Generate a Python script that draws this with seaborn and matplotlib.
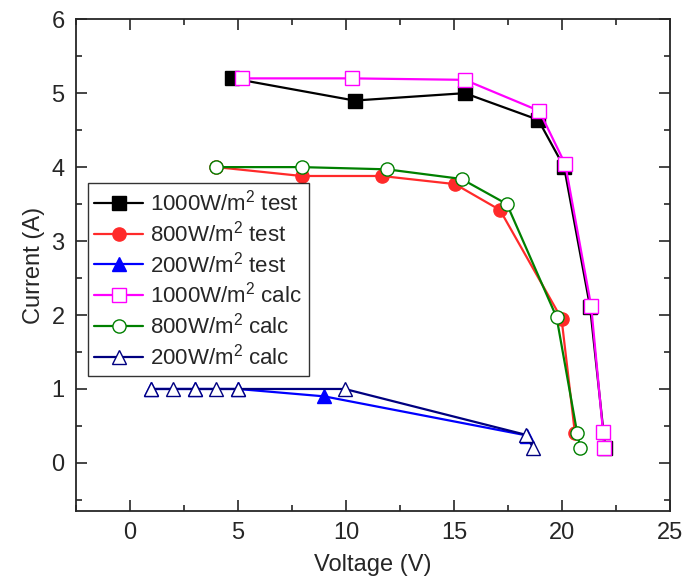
import numpy as np
import pandas as pd
import matplotlib
matplotlib.use('Agg')
import matplotlib.pyplot as plt
import seaborn as sns
from matplotlib.ticker import MultipleLocator

# Dados
v_1000_test = [4.75, 10.4, 15.5, 18.9, 20.1, 21.3, 22.0]
i_1000_test = [5.2, 4.9, 5.0, 4.64, 4.0, 2.11, 0.2]
v_800_test = [4.0, 7.95, 11.65, 15.05, 17.13, 19.98, 20.6]
i_800_test = [4.0, 3.88, 3.88, 3.77, 3.42, 1.95, 0.4]
v_200_test = [1.0, 3.0, 5.0, 9.0, 18.4]
i_200_test = [1.0, 1.0, 1.0, 0.9, 0.37]

v_1000_calc = [5.2, 10.3, 15.5, 18.95, 20.15, 21.35, 21.9, 21.95]
i_1000_calc = [5.2, 5.2, 5.18, 4.76, 4.04, 2.12, 0.42, 0.2]
v_800_calc = [4.0, 7.95, 11.9, 15.35, 17.45, 19.75, 20.7, 20.85]
i_800_calc = [4.0, 4.0, 3.97, 3.84, 3.5, 1.97, 0.41, 0.2]
v_200_calc = [1.0, 2.0, 3.0, 4.0, 5.0, 9.95, 18.33, 18.67]
i_200_calc = [1.0, 1.0, 1.0, 1.0, 1.0, 1.0, 0.38, 0.2]

series = [
    ('1000W/m$^2$ test', v_1000_test, i_1000_test, 'black', 's', True),
    ('800W/m$^2$ test', v_800_test, i_800_test, '#ff2a2a', 'o', True),
    ('200W/m$^2$ test', v_200_test, i_200_test, '#0000ff', '^', True),
    ('1000W/m$^2$ calc', v_1000_calc, i_1000_calc, '#ff00ff', 's', False),
    ('800W/m$^2$ calc', v_800_calc, i_800_calc, '#008000', 'o', False),
    ('200W/m$^2$ calc', v_200_calc, i_200_calc, '#000080', '^', False),
]

sns.set_style('ticks')
plt.rcParams['font.family'] = ['Liberation Sans', 'DejaVu Sans']
plt.rcParams['mathtext.fontset'] = 'custom'
plt.rcParams['mathtext.rm'] = 'Liberation Sans'

fig = plt.figure(figsize=(6.83, 5.82), dpi=100)
ax = fig.add_axes([0.111, 0.122, 0.87, 0.845])

for nome, v, i, cor, mk, cheio in series:
    df = pd.DataFrame({'V': v, 'I': i})
    sns.lineplot(data=df, x='V', y='I', sort=False, ax=ax, color=cor, marker=mk,
                 markersize=9.5 if mk != '^' else 10.5, linewidth=1.6,
                 markerfacecolor=cor if cheio else 'white', markeredgecolor=cor,
                 markeredgewidth=1.0, label=nome)

ax.set_xlim(-2.5, 25)
ax.set_ylim(-0.65, 6)
ax.xaxis.set_major_locator(MultipleLocator(5))
ax.xaxis.set_minor_locator(MultipleLocator(2.5))
ax.yaxis.set_major_locator(MultipleLocator(1))
ax.yaxis.set_minor_locator(MultipleLocator(0.5))
ax.tick_params(which='both', direction='in', top=True, right=True, width=1.2,
               labelsize=17)
ax.tick_params(which='major', length=8, pad=8)
ax.tick_params(which='minor', length=4)
for s in ax.spines.values():
    s.set_linewidth(1.3)
ax.set_xlabel('Voltage (V)', fontsize=17, labelpad=7)
ax.set_ylabel('Current (A)', fontsize=17, labelpad=5)

leg = ax.legend(loc='upper left', bbox_to_anchor=(0.02, 0.667), borderaxespad=0,
                fontsize=16, frameon=True, fancybox=False, edgecolor='black',
                handlelength=2.2, handletextpad=0.3, labelspacing=0.22,
                borderpad=0.3)
leg.get_frame().set_linewidth(1.0)

fig.savefig('out.png', dpi=100)
